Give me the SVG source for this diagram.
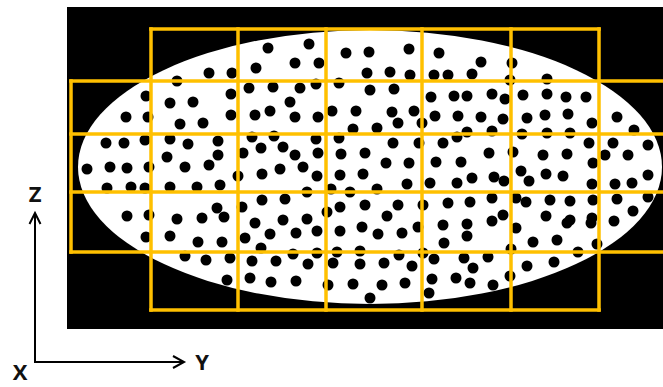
<svg xmlns="http://www.w3.org/2000/svg" width="663" height="387" viewBox="0 0 663 387">
<style>
.d{fill:#000}
.g{stroke:#FFC000;stroke-width:3.5;fill:none;stroke-linecap:square}
.ax{stroke:#000;stroke-width:2;fill:none}
.lb{font-family:"Open Sans","Liberation Sans",sans-serif;font-weight:bold;font-size:22px;fill:#111}
</style>
<rect width="663" height="387" fill="#fff"/>
<rect id="bg" x="67" y="7" width="596" height="322" fill="#000"/>
<ellipse id="body" cx="370" cy="167" rx="292" ry="137" fill="#fff"/>
<g id="dots" class="d">
<circle cx="268" cy="48" r="5.5"/><circle cx="309" cy="44" r="5.5"/><circle cx="295" cy="63" r="5.5"/><circle cx="319" cy="63" r="5.5"/><circle cx="346" cy="53" r="5.5"/><circle cx="369" cy="52" r="5.5"/><circle cx="409" cy="49" r="5.5"/><circle cx="439" cy="53" r="5.5"/><circle cx="367" cy="73" r="5.5"/><circle cx="390" cy="72" r="5.5"/><circle cx="410" cy="75" r="5.5"/><circle cx="434" cy="75" r="5.5"/><circle cx="448" cy="75" r="5.5"/><circle cx="256" cy="68" r="5.5"/><circle cx="209" cy="73" r="5.5"/><circle cx="232" cy="73" r="5.5"/><circle cx="177" cy="81" r="5.5"/><circle cx="481" cy="62" r="5.5"/><circle cx="472" cy="74" r="5.5"/><circle cx="512" cy="63" r="5.5"/><circle cx="510" cy="80" r="5.5"/><circle cx="547" cy="79" r="5.5"/>
<circle cx="249" cy="88" r="5.5"/><circle cx="146" cy="96" r="5.5"/><circle cx="231" cy="94" r="5.5"/><circle cx="170" cy="103" r="5.5"/><circle cx="193" cy="102" r="5.5"/><circle cx="126" cy="117" r="5.5"/><circle cx="148" cy="117" r="5.5"/><circle cx="231" cy="115" r="5.5"/><circle cx="270" cy="111" r="5.5"/><circle cx="273" cy="87" r="5.5"/><circle cx="300" cy="88" r="5.5"/><circle cx="316" cy="84" r="5.5"/><circle cx="339" cy="83" r="5.5"/><circle cx="370" cy="90" r="5.5"/><circle cx="394" cy="89" r="5.5"/><circle cx="290" cy="102" r="5.5"/><circle cx="332" cy="111" r="5.5"/><circle cx="356" cy="111" r="5.5"/><circle cx="392" cy="112" r="5.5"/><circle cx="414" cy="111" r="5.5"/><circle cx="431" cy="97" r="5.5"/><circle cx="454" cy="96" r="5.5"/><circle cx="467" cy="96" r="5.5"/><circle cx="435" cy="116" r="5.5"/><circle cx="458" cy="116" r="5.5"/><circle cx="295" cy="117" r="5.5"/><circle cx="318" cy="117" r="5.5"/><circle cx="492" cy="94" r="5.5"/><circle cx="505" cy="99" r="5.5"/><circle cx="523" cy="95" r="5.5"/><circle cx="547" cy="94" r="5.5"/><circle cx="566" cy="97" r="5.5"/><circle cx="586" cy="97" r="5.5"/><circle cx="481" cy="117" r="5.5"/><circle cx="503" cy="119" r="5.5"/><circle cx="527" cy="118" r="5.5"/><circle cx="545" cy="115" r="5.5"/><circle cx="568" cy="114" r="5.5"/><circle cx="617" cy="117" r="5.5"/><circle cx="180" cy="124" r="5.5"/><circle cx="203" cy="123" r="5.5"/><circle cx="255" cy="115" r="5.5"/><circle cx="398" cy="123" r="5.5"/><circle cx="422" cy="123" r="5.5"/><circle cx="353" cy="129" r="5.5"/><circle cx="377" cy="128" r="5.5"/><circle cx="467" cy="132" r="5.5"/><circle cx="592" cy="123" r="5.5"/><circle cx="634" cy="130" r="5.5"/><circle cx="492" cy="131" r="5.5"/><circle cx="522" cy="134" r="5.5"/><circle cx="547" cy="133" r="5.5"/><circle cx="570" cy="133" r="5.5"/>
<circle cx="252" cy="137" r="5.5"/><circle cx="261" cy="148" r="5.5"/><circle cx="106" cy="143" r="5.5"/><circle cx="124" cy="143" r="5.5"/><circle cx="145" cy="140" r="5.5"/><circle cx="170" cy="139" r="5.5"/><circle cx="188" cy="144" r="5.5"/><circle cx="218" cy="141" r="5.5"/><circle cx="218" cy="155" r="5.5"/><circle cx="167" cy="157" r="5.5"/><circle cx="243" cy="153" r="5.5"/><circle cx="87" cy="169" r="5.5"/><circle cx="110" cy="167" r="5.5"/><circle cx="127" cy="168" r="5.5"/><circle cx="149" cy="167" r="5.5"/><circle cx="185" cy="167" r="5.5"/><circle cx="209" cy="165" r="5.5"/><circle cx="238" cy="176" r="5.5"/><circle cx="262" cy="174" r="5.5"/><circle cx="107" cy="188" r="5.5"/><circle cx="131" cy="187" r="5.5"/><circle cx="145" cy="188" r="5.5"/><circle cx="170" cy="187" r="5.5"/><circle cx="197" cy="187" r="5.5"/><circle cx="220" cy="185" r="5.5"/>
<circle cx="274" cy="136" r="5.5"/><circle cx="316" cy="139" r="5.5"/><circle cx="339" cy="138" r="5.5"/><circle cx="393" cy="143" r="5.5"/><circle cx="419" cy="143" r="5.5"/><circle cx="443" cy="143" r="5.5"/><circle cx="457" cy="137" r="5.5"/><circle cx="283" cy="147" r="5.5"/><circle cx="295" cy="155" r="5.5"/><circle cx="318" cy="153" r="5.5"/><circle cx="341" cy="154" r="5.5"/><circle cx="365" cy="153" r="5.5"/><circle cx="303" cy="167" r="5.5"/><circle cx="280" cy="169" r="5.5"/><circle cx="386" cy="163" r="5.5"/><circle cx="409" cy="163" r="5.5"/><circle cx="436" cy="162" r="5.5"/><circle cx="461" cy="162" r="5.5"/><circle cx="317" cy="176" r="5.5"/><circle cx="340" cy="175" r="5.5"/><circle cx="363" cy="174" r="5.5"/><circle cx="407" cy="184" r="5.5"/><circle cx="430" cy="183" r="5.5"/><circle cx="457" cy="183" r="5.5"/><circle cx="307" cy="192" r="5.5"/><circle cx="331" cy="189" r="5.5"/><circle cx="350" cy="192" r="5.5"/><circle cx="377" cy="189" r="5.5"/>
<circle cx="589" cy="143" r="5.5"/><circle cx="613" cy="143" r="5.5"/><circle cx="648" cy="145" r="5.5"/><circle cx="489" cy="153" r="5.5"/><circle cx="513" cy="152" r="5.5"/><circle cx="543" cy="155" r="5.5"/><circle cx="567" cy="154" r="5.5"/><circle cx="605" cy="155" r="5.5"/><circle cx="628" cy="155" r="5.5"/><circle cx="593" cy="163" r="5.5"/><circle cx="521" cy="171" r="5.5"/><circle cx="546" cy="174" r="5.5"/><circle cx="563" cy="176" r="5.5"/><circle cx="648" cy="175" r="5.5"/><circle cx="472" cy="178" r="5.5"/><circle cx="494" cy="177" r="5.5"/><circle cx="504" cy="181" r="5.5"/><circle cx="529" cy="181" r="5.5"/><circle cx="592" cy="184" r="5.5"/><circle cx="615" cy="184" r="5.5"/><circle cx="632" cy="183" r="5.5"/>
<circle cx="262" cy="200" r="5.5"/><circle cx="242" cy="207" r="5.5"/><circle cx="217" cy="208" r="5.5"/><circle cx="127" cy="216" r="5.5"/><circle cx="149" cy="215" r="5.5"/><circle cx="177" cy="219" r="5.5"/><circle cx="202" cy="218" r="5.5"/><circle cx="224" cy="217" r="5.5"/><circle cx="285" cy="199" r="5.5"/><circle cx="340" cy="207" r="5.5"/><circle cx="365" cy="205" r="5.5"/><circle cx="398" cy="205" r="5.5"/><circle cx="423" cy="205" r="5.5"/><circle cx="448" cy="203" r="5.5"/><circle cx="470" cy="202" r="5.5"/><circle cx="327" cy="212" r="5.5"/><circle cx="387" cy="216" r="5.5"/><circle cx="283" cy="220" r="5.5"/><circle cx="307" cy="219" r="5.5"/><circle cx="492" cy="198" r="5.5"/><circle cx="516" cy="198" r="5.5"/><circle cx="526" cy="202" r="5.5"/><circle cx="550" cy="200" r="5.5"/><circle cx="570" cy="201" r="5.5"/><circle cx="593" cy="200" r="5.5"/><circle cx="617" cy="199" r="5.5"/><circle cx="648" cy="197" r="5.5"/><circle cx="633" cy="211" r="5.5"/><circle cx="503" cy="215" r="5.5"/><circle cx="546" cy="216" r="5.5"/><circle cx="570" cy="220" r="5.5"/><circle cx="592" cy="218" r="5.5"/><circle cx="492" cy="221" r="5.5"/>
<circle cx="255" cy="223" r="5.5"/><circle cx="146" cy="237" r="5.5"/><circle cx="170" cy="236" r="5.5"/><circle cx="198" cy="242" r="5.5"/><circle cx="222" cy="242" r="5.5"/><circle cx="245" cy="238" r="5.5"/><circle cx="261" cy="248" r="5.5"/><circle cx="270" cy="234" r="5.5"/><circle cx="296" cy="233" r="5.5"/><circle cx="317" cy="231" r="5.5"/><circle cx="340" cy="231" r="5.5"/><circle cx="362" cy="227" r="5.5"/><circle cx="378" cy="234" r="5.5"/><circle cx="402" cy="233" r="5.5"/><circle cx="418" cy="227" r="5.5"/><circle cx="443" cy="225" r="5.5"/><circle cx="467" cy="224" r="5.5"/><circle cx="444" cy="243" r="5.5"/><circle cx="467" cy="236" r="5.5"/><circle cx="516" cy="228" r="5.5"/><circle cx="567" cy="223" r="5.5"/><circle cx="591" cy="223" r="5.5"/><circle cx="614" cy="221" r="5.5"/><circle cx="533" cy="242" r="5.5"/><circle cx="557" cy="240" r="5.5"/><circle cx="511" cy="249" r="5.5"/><circle cx="578" cy="252" r="5.5"/><circle cx="597" cy="244" r="5.5"/>
<circle cx="185" cy="256" r="5.5"/><circle cx="206" cy="260" r="5.5"/><circle cx="230" cy="258" r="5.5"/><circle cx="252" cy="261" r="5.5"/><circle cx="227" cy="280" r="5.5"/><circle cx="250" cy="278" r="5.5"/><circle cx="271" cy="282" r="5.5"/><circle cx="293" cy="254" r="5.5"/><circle cx="317" cy="253" r="5.5"/><circle cx="337" cy="252" r="5.5"/><circle cx="360" cy="251" r="5.5"/><circle cx="399" cy="255" r="5.5"/><circle cx="423" cy="253" r="5.5"/><circle cx="276" cy="261" r="5.5"/><circle cx="308" cy="264" r="5.5"/><circle cx="333" cy="263" r="5.5"/><circle cx="360" cy="264" r="5.5"/><circle cx="384" cy="263" r="5.5"/><circle cx="412" cy="266" r="5.5"/><circle cx="434" cy="259" r="5.5"/><circle cx="464" cy="258" r="5.5"/><circle cx="296" cy="281" r="5.5"/><circle cx="328" cy="285" r="5.5"/><circle cx="353" cy="284" r="5.5"/><circle cx="382" cy="285" r="5.5"/><circle cx="405" cy="283" r="5.5"/><circle cx="432" cy="279" r="5.5"/><circle cx="456" cy="278" r="5.5"/><circle cx="429" cy="293" r="5.5"/><circle cx="370" cy="298" r="5.5"/><circle cx="488" cy="257" r="5.5"/><circle cx="473" cy="268" r="5.5"/><circle cx="527" cy="266" r="5.5"/><circle cx="554" cy="262" r="5.5"/><circle cx="510" cy="276" r="5.5"/><circle cx="470" cy="283" r="5.5"/><circle cx="493" cy="285" r="5.5"/>
</g>
<g id="grid" class="g">
<line x1="151" y1="29" x2="599" y2="29"/>
<line x1="71" y1="81" x2="663" y2="81"/>
<line x1="71" y1="134" x2="663" y2="134"/>
<line x1="71" y1="192" x2="663" y2="192"/>
<line x1="71" y1="252" x2="663" y2="252"/>
<line x1="151" y1="310" x2="599" y2="310"/>
<line x1="71" y1="81" x2="71" y2="252"/>
<line x1="151" y1="29" x2="151" y2="310"/>
<line x1="238" y1="29" x2="238" y2="310"/>
<line x1="326" y1="29" x2="326" y2="310"/>
<line x1="422" y1="29" x2="422" y2="310"/>
<line x1="511" y1="29" x2="511" y2="310"/>
<line x1="599" y1="29" x2="599" y2="310"/>
</g>
<g id="axes">
<path class="ax" d="M35,213 V362 H184"/>
<path class="ax" d="M29.5,224 L35,213 L40.5,224"/>
<path class="ax" d="M173,356 L184,362 L173,368"/>
<text class="lb" x="35" y="202" text-anchor="middle">Z</text>
<text class="lb" x="202" y="370" text-anchor="middle">Y</text>
<text class="lb" x="20" y="380" text-anchor="middle">X</text>
</g>
</svg>
